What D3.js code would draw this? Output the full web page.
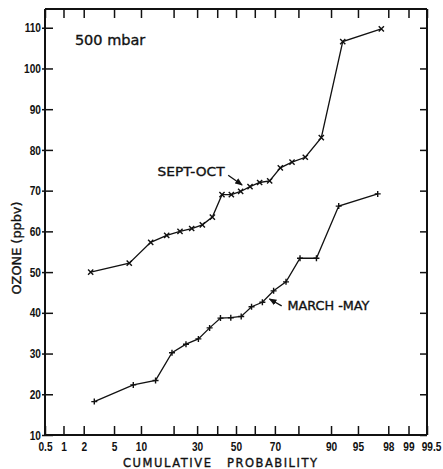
<!DOCTYPE html>
<html>
<head>
<meta charset="utf-8">
<script src="https://cdn.jsdelivr.net/npm/d3@7"></script>
<style>
  html, body { margin: 0; padding: 0; background: #fff; }
  svg { display: block; }
  .lbl { font-family: "DejaVu Sans", sans-serif; fill: #111; stroke: #111; stroke-width: 0.35px; }
</style>
</head>
<body>
<svg id="chart" width="443" height="469"></svg>
<script>
// Ozone at 500 mbar: cumulative probability distributions by season
const probTicks = [0.5, 1, 2, 5, 10, 20, 30, 40, 50, 60, 70, 80, 90, 95, 98, 99, 99.5];
const probTickLabels = ["0.5", "1", "2", "5", "10", "", "30", "", "50", "", "70", "", "90", "95", "98", "99", "99.5"];
const ozoneTicks = [10, 20, 30, 40, 50, 60, 70, 80, 90, 100, 110];

// SEPT-OCT (cumulative probability %, ozone ppbv)
const septProb = [2.5, 7.5, 12.5, 17.5, 22.5, 27.5, 32.5, 37.5, 42.5, 47.5, 52.5, 57.5, 62.5, 67.5, 72.5, 77.5, 82.5, 87.5, 92.5, 97.5];
const septOzone = [50, 52.2, 57.3, 59, 60, 60.7, 61.6, 63.5, 69, 69, 69.8, 71, 72, 72.4, 75.6, 77, 78.2, 83, 106.6, 109.7];

// MARCH-MAY
const marchProb = [2.8, 8.3, 13.9, 19.4, 25, 30.6, 36.1, 41.7, 47.2, 52.8, 58.3, 63.9, 69.4, 75, 80.6, 86.1, 91.7, 97.2];
const marchOzone = [18.2, 22.3, 23.4, 30.2, 32.3, 33.6, 36.3, 38.7, 38.8, 39.1, 41.5, 42.6, 45.4, 47.6, 53.4, 53.4, 66.2, 69.2];

// Inverse of the standard normal CDF (Acklam's rational approximation)
function probit(p) {
  const a = [-3.969683028665376e+01, 2.209460984245205e+02, -2.759285104469687e+02, 1.383577518672690e+02, -3.066479806614716e+01, 2.506628277459239e+00];
  const b = [-5.447609879822406e+01, 1.615858368580409e+02, -1.556989798598866e+02, 6.680131188771972e+01, -1.328068155288572e+01];
  const c = [-7.784894002430293e-03, -3.223964580411365e-01, -2.400758277161838e+00, -2.549671348554254e+00, 4.374664141464968e+00, 2.938163982698783e+00];
  const d = [7.784695709041462e-03, 3.224671290700398e-01, 2.445134137142996e+00, 3.754408661907416e+00];
  const pl = 0.02425, ph = 1 - pl;
  let q, r;
  if (p < pl) {
    q = Math.sqrt(-2 * Math.log(p));
    return (((((c[0]*q+c[1])*q+c[2])*q+c[3])*q+c[4])*q+c[5]) / ((((d[0]*q+d[1])*q+d[2])*q+d[3])*q+1);
  }
  if (p <= ph) {
    q = p - 0.5; r = q * q;
    return (((((a[0]*r+a[1])*r+a[2])*r+a[3])*r+a[4])*r+a[5])*q / (((((b[0]*r+b[1])*r+b[2])*r+b[3])*r+b[4])*r+1);
  }
  q = Math.sqrt(-2 * Math.log(1 - p));
  return -(((((c[0]*q+c[1])*q+c[2])*q+c[3])*q+c[4])*q+c[5]) / ((((d[0]*q+d[1])*q+d[2])*q+d[3])*q+1);
}

const plotLeft = 45, plotRight = 427, plotTop = 9, plotBottom = 435;
const svg = d3.select("#chart");

// Normal-probability x scale built on a linear z-scale
const zScale = d3.scaleLinear().domain([probit(0.005), probit(0.995)]).range([plotLeft, plotRight]);
function x(p) { return zScale(probit(p / 100)); }
x.copy = () => x;
x.range = () => zScale.range();
x.domain = () => [0.5, 99.5];

const y = d3.scaleLinear().domain([10, 114.6]).range([plotBottom, plotTop]);

const fmtProb = d => probTickLabels[probTicks.indexOf(d)];
const narrow = 0.78; // horizontal squeeze of tick lettering

// Axes (ticks point inward on all four sides)
const gB = svg.append("g").attr("transform", `translate(0,${plotBottom})`)
  .call(d3.axisBottom(x).tickValues(probTicks).tickFormat(fmtProb).tickSizeInner(-9).tickSizeOuter(0).tickPadding(7));
const gT = svg.append("g").attr("transform", `translate(0,${plotTop})`)
  .call(d3.axisTop(x).tickValues(probTicks).tickFormat("").tickSizeInner(-9).tickSizeOuter(0));
const gL = svg.append("g").attr("transform", `translate(${plotLeft},0)`)
  .call(d3.axisLeft(y).tickValues(ozoneTicks).tickFormat(d3.format("d")).tickSizeInner(-8).tickSizeOuter(0).tickPadding(4));
gL.selectAll(".tick line").attr("x1", -3);
const gR = svg.append("g").attr("transform", `translate(${plotRight},0)`)
  .call(d3.axisRight(y).tickValues(ozoneTicks).tickFormat("").tickSizeInner(-7).tickSizeOuter(0));

[gB, gT, gL, gR].forEach(g => {
  g.attr("font-family", "'Liberation Sans', Arial, sans-serif").attr("font-size", 13).attr("font-weight", "bold");
  g.select(".domain").attr("stroke", "#111").attr("stroke-width", 2);
  g.selectAll(".tick line").attr("stroke", "#111").attr("stroke-width", 1.5);
  g.selectAll(".tick text").attr("fill", "#111");
});
gB.selectAll(".tick text")
  .attr("dy", "0.72em")
  .attr("x", d => (d === 99.5 ? 4 : 0) / narrow)
  .attr("transform", `scale(${narrow},1)`);
gL.selectAll(".tick text")
  .attr("x", -4 / narrow)
  .attr("transform", `scale(${narrow},1)`);
// make the frame run the full height/width
gL.select(".domain").attr("d", `M0,${plotTop}V${plotBottom}`);
gR.select(".domain").attr("d", `M0,${plotTop}V${plotBottom}`);
gB.select(".domain").attr("d", `M${plotLeft},0H${plotRight}`);
gT.select(".domain").attr("d", `M${plotLeft},0H${plotRight}`);

// Series
function drawSeries(probs, vals, marker) {
  const pts = probs.map((p, i) => [x(p), y(vals[i])]);
  svg.append("path")
    .attr("d", d3.line()(pts))
    .attr("fill", "none").attr("stroke", "#111").attr("stroke-width", 1.3);
  const r = 2.6;
  svg.append("g").selectAll("path").data(pts).join("path")
    .attr("d", ([px, py]) => marker === "x"
      ? `M${px-r},${py-r}L${px+r},${py+r}M${px-r},${py+r}L${px+r},${py-r}`
      : `M${px-r-0.4},${py}H${px+r+0.4}M${px},${py-r-0.4}V${py+r+0.4}`)
    .attr("stroke", "#111").attr("stroke-width", 1.4).attr("fill", "none");
}
drawSeries(septProb, septOzone, "x");
drawSeries(marchProb, marchOzone, "+");

// Arrowhead
svg.append("defs").append("marker")
  .attr("id", "ah").attr("viewBox", "0 0 10 10").attr("refX", 9).attr("refY", 5)
  .attr("markerWidth", 6).attr("markerHeight", 6).attr("orient", "auto")
  .append("path").attr("d", "M0,1L10,5L0,9Z").attr("fill", "#111");

// Annotations
svg.append("text").attr("class", "lbl")
  .attr("x", x(1.49)).attr("y", y(105.8))
  .attr("font-size", 14.5).text("500 mbar");

svg.append("text").attr("class", "lbl")
  .attr("x", x(14.5)).attr("y", y(73.6))
  .attr("font-size", 13).attr("textLength", 67).attr("lengthAdjust", "spacingAndGlyphs")
  .text("SEPT-OCT");
svg.append("line")
  .attr("x1", x(45.8)).attr("y1", y(73.8)).attr("x2", x(53.3)).attr("y2", y(71.4))
  .attr("stroke", "#111").attr("stroke-width", 1.3).attr("marker-end", "url(#ah)");

svg.append("text").attr("class", "lbl")
  .attr("x", x(75.6)).attr("y", y(40.7))
  .attr("font-size", 12.5).attr("textLength", 82).attr("lengthAdjust", "spacingAndGlyphs")
  .text("MARCH -MAY");
svg.append("line")
  .attr("x1", x(73.1)).attr("y1", y(41.7)).attr("x2", x(67.4)).attr("y2", y(43.4))
  .attr("stroke", "#111").attr("stroke-width", 1.3).attr("marker-end", "url(#ah)");

// Axis titles
svg.append("text").attr("class", "lbl")
  .attr("transform", "translate(21,248) rotate(-90)")
  .attr("text-anchor", "middle").attr("font-size", 12.5)
  .attr("textLength", 93).attr("lengthAdjust", "spacingAndGlyphs")
  .text("OZONE (ppbv)");

svg.append("text").attr("class", "lbl")
  .attr("x", 123).attr("y", 467).attr("font-size", 11.5)
  .attr("textLength", 88).attr("lengthAdjust", "spacing")
  .text("CUMULATIVE");
svg.append("text").attr("class", "lbl")
  .attr("x", 227).attr("y", 467).attr("font-size", 11.5)
  .attr("textLength", 90).attr("lengthAdjust", "spacing")
  .text("PROBABILITY");
</script>
</body>
</html>
